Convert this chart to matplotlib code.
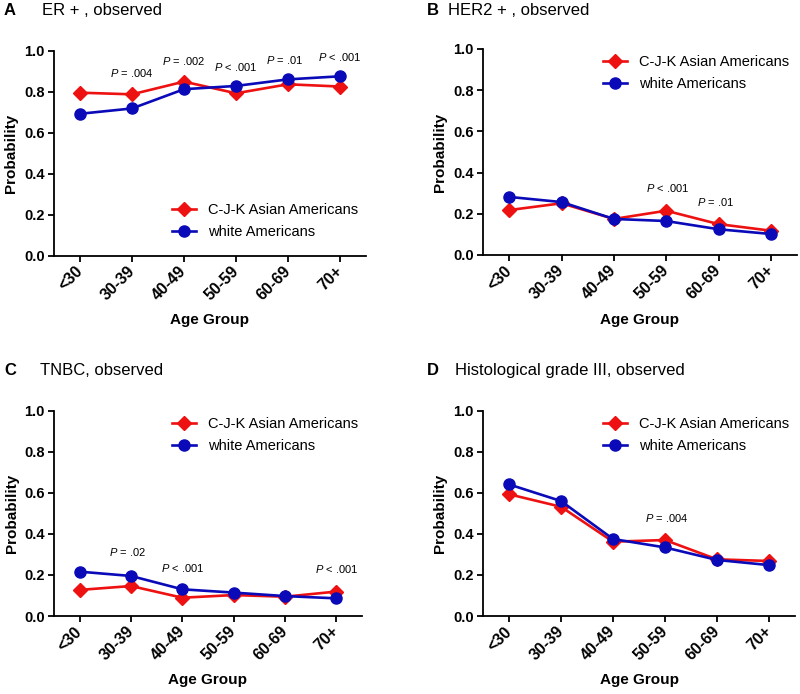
import matplotlib
matplotlib.use("Agg")
import matplotlib.pyplot as plt

plt.rcParams['font.family'] = ['Liberation Sans', 'DejaVu Sans']
plt.rcParams['mathtext.fontset'] = 'custom'
plt.rcParams['mathtext.it'] = 'Liberation Sans:italic'
plt.rcParams['mathtext.rm'] = 'Liberation Sans'

age_groups = ["<30", "30-39", "40-49", "50-59", "60-69", "70+"]
y_ticks = [0.0, 0.2, 0.4, 0.6, 0.8, 1.0]

er_asian = [0.795, 0.787, 0.849, 0.792, 0.836, 0.825]
er_white = [0.692, 0.718, 0.812, 0.828, 0.860, 0.875]
her2_asian = [0.218, 0.251, 0.175, 0.215, 0.150, 0.118]
her2_white = [0.282, 0.257, 0.175, 0.165, 0.125, 0.102]
tnbc_asian = [0.127, 0.146, 0.089, 0.102, 0.094, 0.119]
tnbc_white = [0.216, 0.195, 0.130, 0.114, 0.097, 0.086]
grade_asian = [0.593, 0.532, 0.362, 0.370, 0.276, 0.268]
grade_white = [0.641, 0.560, 0.375, 0.334, 0.273, 0.248]

er_p_text = ["P = .004", "P = .002", "P < .001", "P = .01", "P < .001"]
er_p_pos = [(1, 0.893), (2, 0.95), (3, 0.922), (3.94, 0.955), (5, 0.971)]
her2_p_text = ["P < .001", "P = .01"]
her2_p_pos = [(3.03, 0.324), (3.95, 0.259)]
tnbc_p_text = ["P = .02", "P < .001", "P < .001"]
tnbc_p_pos = [(0.93, 0.31), (2, 0.235), (5, 0.227)]
grade_p_text = ["P = .004"]
grade_p_pos = [(3.03, 0.479)]

labels = ["C-J-K Asian Americans", "white Americans"]
red = '#ee1111'
blue = '#0a0ab8'

W, H = 800, 694
fig = plt.figure(figsize=(W / 100, H / 100), dpi=100)


def px_axes(left, right, top, bottom):
    return fig.add_axes([left / W, 1 - bottom / H, (right - left) / W, (bottom - top) / H])


panels = [
    dict(box=(54, 366, 50.7, 255.5), letter="A", lx=4, title="ER + , observed", tx=42, ty=15,
         a=er_asian, w=er_white, pt=er_p_text, pp=er_p_pos, leg=(0.378, 0.255)),
    dict(box=(483, 797, 49, 255), letter="B", lx=427, title="HER2 + , observed", tx=448, ty=15,
         a=her2_asian, w=her2_white, pt=her2_p_text, pp=her2_p_pos, leg=(0.382, 0.97)),
    dict(box=(54, 362, 410.7, 616), letter="C", lx=4, title="TNBC, observed", tx=40, ty=375,
         a=tnbc_asian, w=tnbc_white, pt=tnbc_p_text, pp=tnbc_p_pos, leg=(0.383, 0.971)),
    dict(box=(483, 795, 410.7, 616), letter="D", lx=427, title="Histological grade III, observed", tx=455, ty=375,
         a=grade_asian, w=grade_white, pt=grade_p_text, pp=grade_p_pos, leg=(0.385, 0.971)),
]

x = list(range(len(age_groups)))
for p in panels:
    ax = px_axes(*p['box'])
    ax.plot(x, p['a'], color=red, marker='D', markersize=7, linewidth=1.9, clip_on=False, label=labels[0], zorder=3)
    ax.plot(x, p['w'], color=blue, marker='o', markersize=8, linewidth=1.9, clip_on=False, label=labels[1], zorder=4)
    ax.set_xlim(-0.5, 5.5)
    ax.set_ylim(0, 1.0)
    ax.set_yticks(y_ticks)
    ax.set_yticklabels([f"{v:.1f}" for v in y_ticks], fontsize=10.5, fontweight='bold')
    ax.set_xticks(x)
    ax.set_xticklabels(age_groups, fontsize=11.5, fontweight='bold', rotation=45,
                       ha='right', va='center', rotation_mode='anchor')
    ax.tick_params(axis='both', direction='out', length=4.5, width=1.3, pad=2)
    ax.tick_params(axis='x', pad=5)
    for s in ['top', 'right']:
        ax.spines[s].set_visible(False)
    for s in ['left', 'bottom']:
        ax.spines[s].set_linewidth(1.3)
    ax.set_ylabel("Probability", fontsize=11, fontweight='bold')
    ax.yaxis.set_label_coords(-0.115, 0.5)
    ax.set_xlabel("Age Group", fontsize=11, fontweight='bold')
    ax.xaxis.set_label_coords(0.5, -0.28)
    for txt, (xx, yy) in zip(p['pt'], p['pp']):
        s = r"$\mathit{P}$" + txt[1:]
        ax.text(xx, yy, s, fontsize=8, ha='center', va='center')
    ax.legend(loc='upper left', bbox_to_anchor=p['leg'], frameon=False, fontsize=10.5,
              handlelength=1.65, handletextpad=0.8, labelspacing=0.55,
              borderpad=0, borderaxespad=0)
    fig.text(p['lx'] / W, 1 - p['ty'] / H, p['letter'], fontsize=12, fontweight='bold', va='baseline')
    fig.text(p['tx'] / W, 1 - p['ty'] / H, p['title'], fontsize=12, va='baseline')

fig.savefig("out.png", dpi=100)
